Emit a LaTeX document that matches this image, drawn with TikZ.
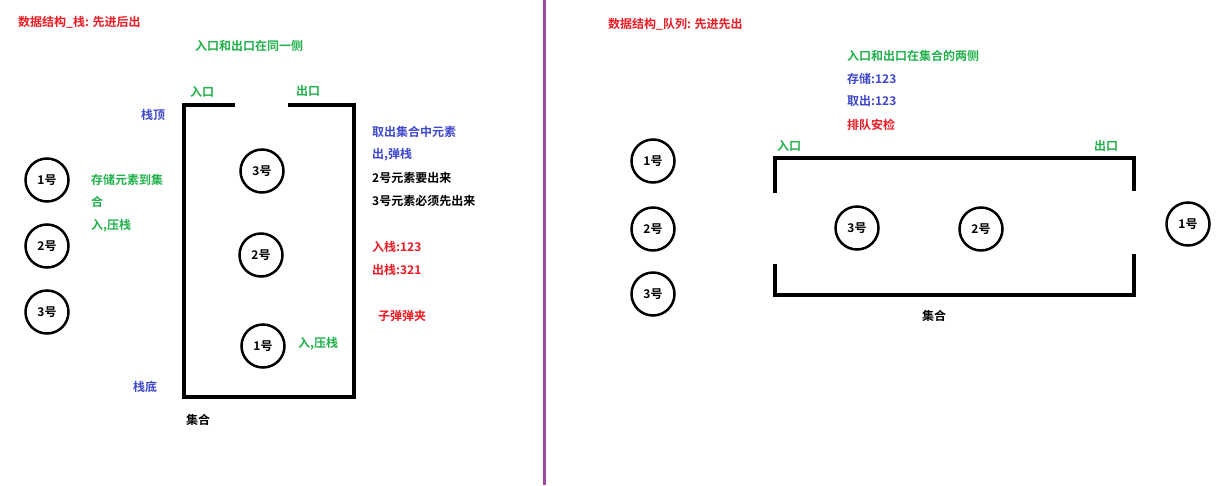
\documentclass[tikz,border=0pt]{standalone}
\usepackage{fontspec}
\setmainfont{Noto Sans CJK SC}[BoldFont={Noto Sans CJK SC Bold}]
\definecolor{pred}{RGB}{237,28,36}
\definecolor{pgreen}{RGB}{34,177,76}
\definecolor{pblue}{RGB}{63,72,204}
\definecolor{ppurple}{RGB}{163,73,164}
\begin{document}
\begin{tikzpicture}[x=1pt,y=-1pt,
  lbl/.style={anchor=west, inner sep=0pt, font=\bfseries\fontsize{12}{14}\selectfont},
  ball/.style={circle, draw=black, line width=2.5pt, minimum size=43pt, inner sep=0pt, font=\bfseries\fontsize{12}{14}\selectfont},
  wall/.style={draw=black, line width=3.5pt, line join=miter, line cap=butt},
  divider/.style={draw=ppurple, line width=3pt}]
\useasboundingbox[fill=white] (0,0) rectangle (1219,485);

% divider
\coordinate (dtop) at (544,0);
\coordinate (dbot) at (544,485);
\draw[divider] (dtop) -- (dbot);

% ---------- stack ----------
\draw[wall] (235,105) -- (184,105) -- (184,397) -- (354,397) -- (354,105) -- (288,105);

\node[ball] (s3) at (262,171) {3号};
\node[ball] (s2) at (261,255) {2号};
\node[ball] (s1) at (263,346) {1号};

\node[ball] (o1) at (47,180) {1号};
\node[ball] (o2) at (47,246) {2号};
\node[ball] (o3) at (47,312) {3号};

\node[lbl, text=pred] (t1) at (18,22) {数据结构\_栈: 先进后出};
\node[lbl, text=pgreen] (t2) at (195,46) {入口和出口在同一侧};
\node[lbl, text=pgreen] (t3) at (190,92) {入口};
\node[lbl, text=pgreen] (t4) at (296,91) {出口};
\node[lbl, text=pblue] (t5) at (141,115) {栈顶};
\node[lbl, text=pgreen] (t6) at (91,180) {存储元素到集};
\node[lbl, text=pgreen] (t7) at (91,202) {合};
\node[lbl, text=pgreen] (t8) at (91,226) {入,压栈};
\node[lbl, text=pgreen] (t9) at (298,344) {入,压栈};
\node[lbl, text=pblue] (t10) at (133,387) {栈底};
\node[lbl, text=black] (t11) at (186,420) {集合};
\node[lbl, text=pblue] (t12) at (372,132) {取出集合中元素};
\node[lbl, text=pblue] (t13) at (372,155) {出,弹栈};
\node[lbl, text=black] (t14) at (372,178) {2号元素要出来};
\node[lbl, text=black] (t15) at (372,201) {3号元素必须先出来};
\node[lbl, text=pred] (t16) at (372,247) {入栈:123};
\node[lbl, text=pred] (t17) at (372,270) {出栈:321};
\node[lbl, text=pred] (t18) at (378,316) {子弹弹夹};

% ---------- queue ----------
\draw[wall] (775,193) -- (775,158) -- (1134,158) -- (1134,191);
\draw[wall] (775,264) -- (775,295) -- (1134,295) -- (1134,254);

\node[ball] (q1) at (653,161) {1号};
\node[ball] (q2) at (653,229) {2号};
\node[ball] (q3) at (653,294) {3号};
\node[ball] (qi3) at (857,228) {3号};
\node[ball] (qi2) at (981,229) {2号};
\node[ball] (qo1) at (1188,224) {1号};

\node[lbl, text=pred] (r1) at (608,24) {数据结构\_队列: 先进先出};
\node[lbl, text=pgreen] (r2) at (847,56) {入口和出口在集合的两侧};
\node[lbl, text=pblue] (r3) at (847,79) {存储:123};
\node[lbl, text=pblue] (r4) at (847,101) {取出:123};
\node[lbl, text=pred] (r5) at (847,125) {排队安检};
\node[lbl, text=pgreen] (r6) at (777,146) {入口};
\node[lbl, text=pgreen] (r7) at (1094,146) {出口};
\node[lbl, text=black] (r8) at (922,316) {集合};
\end{tikzpicture}
\end{document}
